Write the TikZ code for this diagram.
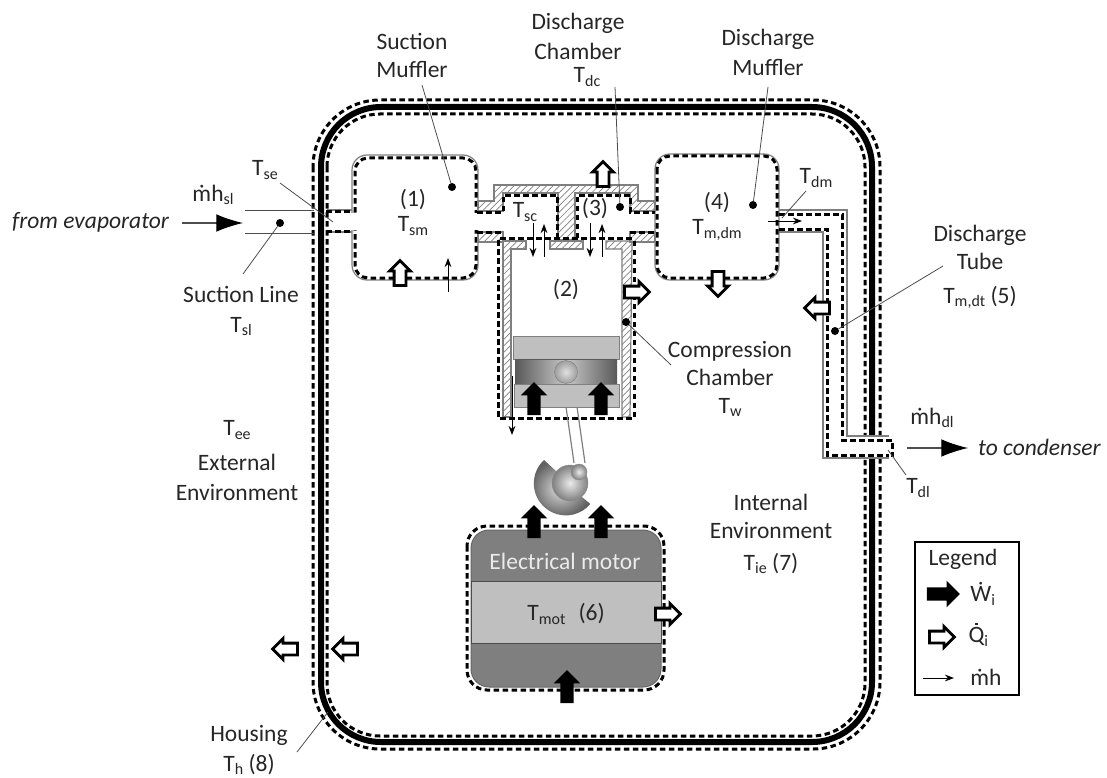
\documentclass[tikz,border=0pt]{standalone}
\usepackage{xcolor}
\usepackage{fontspec}
\setmainfont{Carlito}
\usepackage{tikz}
\usetikzlibrary{positioning,arrows.meta,shapes.arrows,patterns.meta}
\definecolor{cpInk}{HTML}{262626}
\definecolor{cpWall}{HTML}{7F7F7F}
\definecolor{cpLine}{HTML}{4D4D4D}
\definecolor{cpMotor}{HTML}{7F7F7F}
\definecolor{cpLight}{HTML}{BFBFBF}
\newcommand{\lowtxt}[1]{\raisebox{-0.32ex}{\fontsize{16}{16}\selectfont #1}}
\newcommand{\dotq}{\ooalign{Q\cr\hidewidth\raisebox{.76em}{\rule{2.2pt}{2.2pt}}\hidewidth\cr}}
\tikzset{
  txt/.style={font=\fontsize{23.5}{28}\selectfont, text=cpInk, align=center, inner sep=0pt},
  heatarrow/.style={single arrow, draw=black, line width=2.8pt, fill=white, inner xsep=0pt, inner ysep=4.5pt,
                    minimum height=25pt, minimum width=19pt,
                    single arrow head extend=4.5pt, single arrow head indent=0pt},
  workarrow/.style={single arrow, fill=black, inner xsep=0pt, inner ysep=6.5pt,
                    minimum height=33pt, minimum width=26pt,
                    single arrow head extend=6.5pt, single arrow head indent=0pt},
  dotnode/.style={circle, fill=black, inner sep=0pt, minimum size=8pt},
  mhflow/.style={-{Stealth[length=3.2mm,width=2.4mm]}, line width=1pt, draw=black},
  mainflow/.style={-{Latex[length=9.4mm,width=6.2mm,black]}, line width=1.1pt, draw=cpLine},
  leader/.style={draw=cpLine, line width=0.8pt},
  thinwall/.style={draw=cpWall, line width=1.2pt},
  hatched/.style={thinwall, pattern={Lines[angle=45,distance=4.6pt,line width=.7pt]}, pattern color=cpWall},
  cv/.style={draw=black, line width=3pt, dash pattern=on 5.5pt off 3.5pt},
}
\begin{document}
\begin{tikzpicture}[x=1pt,y=-1pt]
  \useasboundingbox (0,0) rectangle (1107,778);

  % housing, broken where the discharge tube leaves
  \draw[draw=black, line width=6pt, rounded corners=60pt] (321,107) rectangle (872,742);
  \draw[cv, rounded corners=67pt] (313,100) rectangle (880,749);
  \draw[cv, rounded corners=53pt] (327,114) rectangle (865,736);
  \fill[white] (848,437) rectangle (889,457);

  % suction line and mufflers
  \fill[white] (352,155) rectangle (478,280);
  \draw[thinwall, rounded corners=15pt] (352,155) rectangle (478,280);
  \draw[cv, rounded corners=13pt] (355,158) rectangle (476,278);
  \fill[white] (350,213) rectangle (480,230);
  \draw[thinwall, rounded corners=15pt] (655,154) rectangle (779,280);
  \draw[cv, rounded corners=13pt] (657,156) rectangle (777,278);
  \draw[thinwall] (327,210) -- (352,210) (327,232) -- (352,232);
  \draw[cv] (326,211) -- (353,211) (326,231) -- (353,231);
  \draw[leader] (245,210) -- (314,210) (245,233) -- (314,233);

  % discharge tube
  \draw[thinwall] (779,210) -- (847,210) -- (847,436) -- (889,436);
  \draw[thinwall] (779,232) -- (823,232) -- (823,458) -- (889,458);
  \draw[cv] (779,214) -- (842,214) -- (842,440) -- (892,440) -- (892,457);
  \draw[cv] (779,229) -- (827,229) -- (827,455) -- (889,455);

  % head and cylinder walls
  \draw[hatched] (478,201) -- (494,201) -- (494,185) -- (638,185) -- (638,201) -- (655,201)
    -- (655,211) -- (630,211) -- (630,193) -- (575,193) -- (575,240) -- (558,240)
    -- (558,193) -- (503,193) -- (503,211) -- (478,211) -- cycle;
  \draw[hatched] (478,232) rectangle (503,242);
  \draw[hatched] (630,232) rectangle (655,242);
  \draw[hatched] (550,241) rectangle (583,249);
  \draw[hatched] (503,241) -- (526,241) -- (526,249) -- (511,249) -- (511,417) -- (503,417) -- cycle;
  \draw[hatched] (606,241) -- (632,241) -- (630,417) -- (622,417) -- (622,249) -- (606,249) -- cycle;
  \draw[cv] (477,212) -- (503,212) -- (503,195) -- (557,195) -- (557,238);
  \draw[cv] (577,238) -- (577,195) -- (630,195) -- (630,212) -- (655,212);
  \draw[cv] (477,232) -- (503,232) (630,232) -- (655,232);
  \draw[cv] (500,238) -- (632,238);
  \draw[cv] (498,240) -- (498,418) -- (634,418) -- (634,240);

  % piston, rod and crank
  \draw[draw=cpWall, line width=1pt, fill=cpLight] (513,336) rectangle (619,359);
  \shade[left color=black!65, right color=black!65, middle color=black!22] (515,359) rectangle (617,384);
  \draw[draw=black!65, line width=1pt] (515,359) -- (617,359) (515,384) -- (617,384);
  \draw[draw=cpWall, line width=1pt, fill=cpLight] (514,384) rectangle (619,407);
  \node[circle, draw=cpWall, inner sep=0pt, minimum size=23pt, inner color=black!12, outer color=black!38] (pistonpin) at (566,372) {};
  \draw[thinwall] (566,407) -- (574,463) (577,407) -- (585,463);
  \shade[inner color=black!12, outer color=black!62] (544,460) arc (227:40:32) -- (582,497) -- (569,483) -- cycle;
  \node[circle, draw=black!45, inner sep=0pt, minimum size=36pt, inner color=black!8, outer color=black!50] (crankdisc) at (570,483) {};
  \node[circle, draw=black!45, inner sep=0pt, minimum size=16pt, inner color=black!8, outer color=black!50] (crankpin) at (579,472) {};

  % motor
  \draw[draw=cpMotor!80!black, line width=1pt, fill=cpMotor, rounded corners=18pt] (471,530) rectangle (661,687);
  \draw[draw=black!70, line width=1pt, fill=cpLight] (471,581) rectangle (661,643);
  \draw[cv, rounded corners=20pt] (467,526) rectangle (664,690);

  % legend
  \draw[draw=black, line width=2.8pt] (915,542) rectangle (1019,695);

  % energy arrows
  \foreach \nm/\px/\py/\rot in {qsm/400/276/90, qdc/603/177/90, qcyl/634/292/0, qdm/718/281/-90,
      qtube/820/308/180, qmot/665/614/0, qhout/288/649/180, qhin/348/649/180, qleg/939/637/0}{
    \node[heatarrow, rotate=\rot] (\nm) at (\px,\py) {};
  }
  \foreach \nm/\px/\py/\rot in {wpl/534/402/90, wpr/601/402/90, wml/534/525/90, wmr/601/525/90,
      wmb/567/690/90, wleg/940/594/0}{
    \node[workarrow, rotate=\rot] (\nm) at (\px,\py) {};
  }

  % enthalpy arrows
  \foreach \nm/\ax/\ay/\bx/\by in {hsm/448/292/448/258, hsd/533/223/533/257, hsu/544/257/544/224,
      hdd/590/223/590/257, hdu/602/257/602/224, hdm/768/221/802/221, hleak/512/376/512/435,
      hleg/923/678/954/678}{
    \coordinate (\nm a) at (\ax,\ay);
    \coordinate (\nm b) at (\bx,\by);
    \draw[mhflow] (\nm a) -- (\nm b);
  }

  % labels
  \node[txt] (lblsm) at (412,55) {Suction\\Muffler};
  \node[txt] (lbldc) at (578,36) {Discharge\\[2pt]Chamber};
  \node[txt, below=8pt of lbldc, xshift=9pt] (lbltdc) {T\lowtxt{dc}};
  \node[txt] (lbldm) at (768,52) {Discharge\\[2pt]Muffler};
  \node[txt] (lblse) at (265,170) {T\lowtxt{se}};
  \node[txt] (lblmsl) at (213,195) {ṁh\lowtxt{sl}};
  \node[txt, anchor=west, font=\fontsize{23.5}{28}\selectfont\itshape] (fromevap) at (12,222) {from evaporator};
  \node[txt] (lblsl) at (241,311) {Suction Line\\[2pt]T\lowtxt{sl}};
  \node[txt] (numsm) at (413,200) {(1)};
  \node[txt, below=6pt of numsm] (tsm) {T\lowtxt{sm}};
  \node[txt] (tsc) at (525,212) {T\lowtxt{sc}};
  \node[txt] (numdc) at (595,209) {(3)};
  \node[txt] (numcc) at (566,290) {(2)};
  \node[txt] (numdm) at (717,203) {(4)};
  \node[txt, below=6pt of numdm] (tdm) {T\lowtxt{m,dm}};
  \node[txt] (lbltdm) at (816,178) {T\lowtxt{dm}};
  \node[txt] (lbltube) at (980,267) {Discharge\\Tube\\[6pt]T\lowtxt{m,dt} (5)};
  \node[txt] (lblcc) at (730,379) {Compression\\Chamber\\T\lowtxt{w}};
  \node[txt] (lblmdl) at (932,418) {ṁh\lowtxt{dl}};
  \node[txt, anchor=west, font=\fontsize{23.5}{28}\selectfont\itshape] (tocond) at (978,447) {to condenser};
  \node[txt] (lbldl) at (918,488) {T\lowtxt{dl}};
  \node[txt] (lblee) at (237,461) {T\lowtxt{ee}\\[7pt]External\\[2pt]Environment};
  \node[txt] (lblie) at (771,534) {Internal\\Environment\\[4pt]T\lowtxt{ie} (7)};
  \node[txt] (lblh) at (249,750) {Housing\\[2pt]T\lowtxt{h} (8)};
  \node[txt, text=white!92!black] (motortxt) at (565,561) {Electrical motor};
  \node[txt] (tmot) at (566,614) {T\lowtxt{mot}\,\, (6)};
  \node[txt] (leghead) at (963,559) {Legend};
  \node[txt, right=10pt of wleg] (legw) {Ẇ\lowtxt{i}};
  \node[txt, right=12pt of qleg] (legq) {\dotq\lowtxt{i}};
  \node[txt] (legh) at (986,677) {ṁh};

  % mass flow in and out
  \coordinate (slin) at (243,223);
  \coordinate (dlout) at (968,448);
  \coordinate (fromstart) at (182,223);
  \coordinate (tostart) at (907,448);
  \draw[mainflow] (fromstart) -- (slin);
  \draw[mainflow] (tostart) -- (dlout);

  % leaders
  \node[dotnode] (dsm) at (452,187) {};
  \node[dotnode] (ddc) at (620,207) {};
  \node[dotnode] (ddm) at (753,205) {};
  \node[dotnode] (dtube) at (835,331) {};
  \node[dotnode] (dcc) at (626,322) {};
  \node[dotnode] (dsl) at (280,223) {};
  \coordinate (lsm) at (422,85);
  \coordinate (ldc) at (615,87);
  \coordinate (ldm) at (768,87);
  \coordinate (ltube) at (943,266);
  \coordinate (lcc) at (671,365);
  \coordinate (lsl) at (243,274);
  \coordinate (lse) at (280,183);
  \coordinate (pse) at (333,222);
  \coordinate (ltdm) at (806,191);
  \coordinate (ptdm) at (782,218);
  \coordinate (ltdl) at (906,475);
  \coordinate (ptdl) at (888,450);
  \coordinate (lh) at (297,752);
  \coordinate (ph) at (328,712);
  \draw[leader] (lsm) -- (dsm);
  \draw[leader] (ldc) -- (ddc);
  \draw[leader] (ldm) -- (ddm);
  \draw[leader] (ltube) -- (dtube);
  \draw[leader] (lcc) -- (dcc);
  \draw[leader] (lsl) -- (dsl);
  \draw[leader] (lse) -- (pse);
  \draw[leader] (ltdm) -- (ptdm);
  \draw[leader] (ltdl) -- (ptdl);
  \draw[leader] (lh) -- (ph);
\end{tikzpicture}
\end{document}
